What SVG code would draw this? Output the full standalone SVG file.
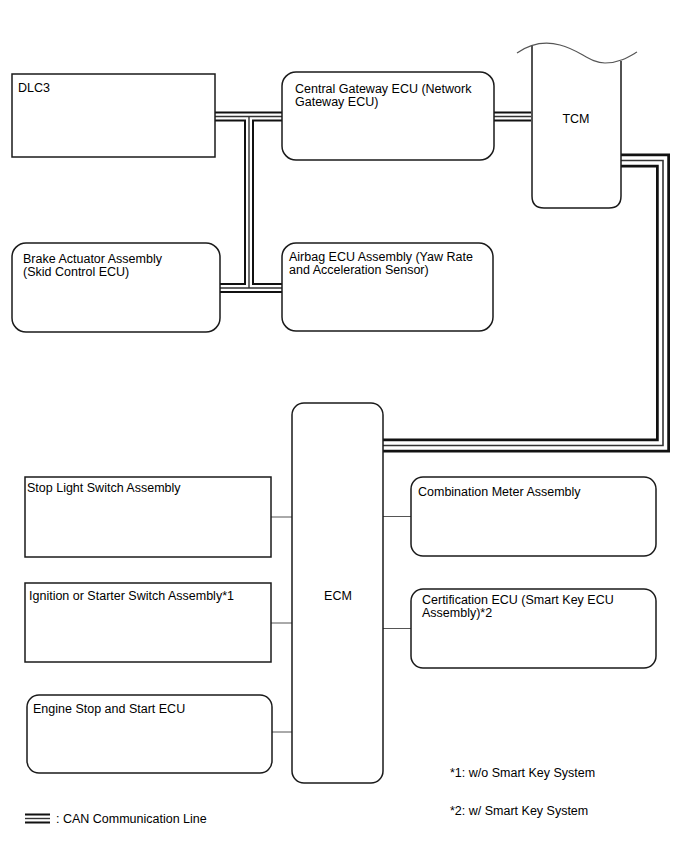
<svg xmlns="http://www.w3.org/2000/svg" width="688" height="852" viewBox="0 0 688 852">
<style>
.box{fill:#fff;stroke:#1a1a1a;stroke-width:1.5}
.t{font-family:"Liberation Sans",Arial,sans-serif;font-size:12.5px;fill:#000}
.c1{fill:none;stroke:#111;stroke-width:10;stroke-linejoin:miter}
.c2{fill:none;stroke:#fff;stroke-width:6;stroke-linejoin:miter}
.c3{fill:none;stroke:#333;stroke-width:1.4;stroke-linejoin:miter}
.w1{fill:none;stroke:#111;stroke-width:14;stroke-linejoin:miter}
.w2{fill:none;stroke:#fff;stroke-width:8.5;stroke-linejoin:miter}
.w3{fill:none;stroke:#333;stroke-width:1.6;stroke-linejoin:miter}
.th{fill:none;stroke:#555;stroke-width:1}
</style>
<rect width="688" height="852" fill="#fff"/>
<g id="connectors">
<path class="c1" d="M215,116.5H282M249,116.5V288M220,288H282M494,116.5H531"/>
<path class="w1" d="M621,160.5H663V445.5H383"/>
<path class="c2" d="M215,116.5H282M249,116.5V288M220,288H282M494,116.5H531"/>
<path class="w2" d="M621,160.5H663V445.5H383"/>
<path class="c3" d="M215,116.5H282M249,116.5V288M220,288H282M494,116.5H531"/>
<path class="w3" d="M621,160.5H663V445.5H383"/>
<path class="th" d="M271,517H292M271,623H292M272,732H292M383,516.5H411M383,628.5H411"/>
</g>
<g id="dlc3"><rect class="box" x="12" y="74" width="203" height="83"/><text class="t" x="18" y="92">DLC3</text></g>
<g id="cgw"><rect class="box" x="282" y="72" width="212" height="88" rx="14"/><text class="t" x="295" y="93">Central Gateway ECU (Network</text><text class="t" x="295" y="106">Gateway ECU)</text></g>
<g id="tcm">
<path class="box" d="M532,45V196Q532,208 544,208H609Q621,208 621,196V61"/>
<path d="M517,53C530,44 545,41 560,45C580,50 590,63 605,63C620,63 630,56 637,52" fill="none" stroke="#555" stroke-width="1.2"/>
<text class="t" x="576" y="123" text-anchor="middle">TCM</text>
</g>
<g id="brake"><rect class="box" x="12" y="243" width="208" height="89" rx="14"/><text class="t" x="23" y="263">Brake Actuator Assembly</text><text class="t" x="23" y="276">(Skid Control ECU)</text></g>
<g id="airbag"><rect class="box" x="282" y="243" width="211" height="88" rx="14"/><text class="t" x="289" y="261">Airbag ECU Assembly (Yaw Rate</text><text class="t" x="289" y="274">and Acceleration Sensor)</text></g>
<g id="ecm"><rect class="box" x="292" y="403" width="91" height="380" rx="12"/><text class="t" x="338" y="600" text-anchor="middle">ECM</text></g>
<g id="stoplight"><rect class="box" x="25" y="477" width="246" height="80"/><text class="t" x="27" y="492">Stop Light Switch Assembly</text></g>
<g id="ignition"><rect class="box" x="25" y="583" width="246" height="79"/><text class="t" x="29" y="600">Ignition or Starter Switch Assembly*1</text></g>
<g id="enginestop"><rect class="box" x="27" y="695" width="245" height="78" rx="12"/><text class="t" x="33" y="713">Engine Stop and Start ECU</text></g>
<g id="combination"><rect class="box" x="411" y="477" width="245" height="79" rx="12"/><text class="t" x="418" y="496">Combination Meter Assembly</text></g>
<g id="certification"><rect class="box" x="411" y="589" width="245" height="79" rx="12"/><text class="t" x="422" y="604">Certification ECU (Smart Key ECU</text><text class="t" x="422" y="617">Assembly)*2</text></g>
<g id="notes">
<text class="t" x="450" y="777">*1: w/o Smart Key System</text>
<text class="t" x="450" y="815">*2: w/ Smart Key System</text>
</g>
<g id="legend">
<path class="c1" d="M25,818.5H50"/><path class="c2" d="M25,818.5H50"/><path class="c3" d="M25,818.5H50"/>
<text class="t" x="56" y="823">: CAN Communication Line</text>
</g>
</svg>
